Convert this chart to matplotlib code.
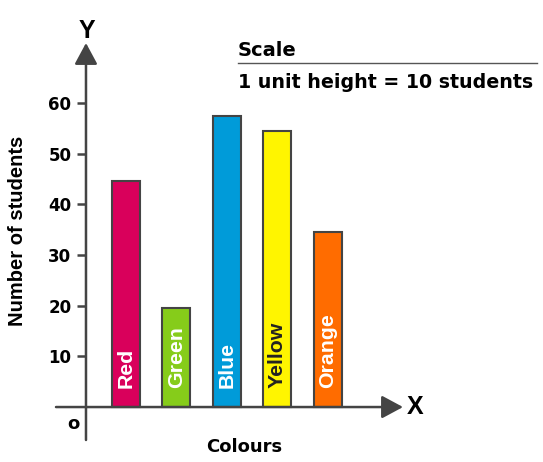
import matplotlib
matplotlib.use("Agg")
import matplotlib.pyplot as plt
from matplotlib.lines import Line2D

plt.rcParams['font.family'] = ['Liberation Sans', 'DejaVu Sans']

colours = ['Red', 'Green', 'Blue', 'Yellow', 'Orange']
students = [44.5, 19.5, 57.5, 54.5, 34.5]
bar_colors = ['#D9005B', '#86CC1A', '#009BD9', '#FFF500', '#FF6C00']
label_colors = ['white', 'white', 'white', '#222222', 'white']
yticks = [10, 20, 30, 40, 50, 60]

W, H = 543, 462
axis_col = '#444444'
narrow = 'Liberation Sans'
wide = 'DejaVu Sans'  # wider glyphs, closer to the reference lettering

fig = plt.figure(figsize=(W / 100, H / 100), dpi=100)
# axes box in pixels: x 56..403, y 43..440
ax = fig.add_axes([56 / W, (H - 440) / H, (403 - 56) / W, (440 - 43) / H])
x_lo, x_hi = -0.389, 6.496
y_lo, y_hi = -6.5, 71.8
ax.set_xlim(x_lo, x_hi)
ax.set_ylim(y_lo, y_hi)
yaxis_x = 0.206

xs = list(range(1, len(colours) + 1))
ax.bar(xs, students, width=0.556, color=bar_colors, edgecolor=axis_col,
       linewidth=1.5, zorder=3)

for x, name, c in zip(xs, colours, label_colors):
    ax.text(x, 3.7, name, rotation=90, ha='center', va='bottom',
            family=narrow, fontsize=15.3, fontweight='bold', color=c,
            zorder=4)

# axes with arrows
arrow = dict(arrowstyle='-|>,head_length=1.3,head_width=0.7', color=axis_col,
             lw=1.8, shrinkA=0, shrinkB=0)
ax.annotate('', xy=(x_hi, 0), xytext=(x_lo, 0), arrowprops=arrow,
            annotation_clip=False, zorder=5)
ax.annotate('', xy=(yaxis_x, y_hi), xytext=(yaxis_x, y_lo), arrowprops=arrow,
            annotation_clip=False, zorder=5)

for s in ax.spines.values():
    s.set_visible(False)
ax.spines['left'].set_position(('data', yaxis_x))
ax.set_xticks([])
ax.set_yticks(yticks)
ax.set_yticklabels([str(t) for t in yticks], family=wide, fontsize=12,
                   fontweight='bold')
ax.tick_params(axis='y', length=6.5, width=1.8, color=axis_col, pad=4)

fig.text(87 / W, 1 - 31 / H, 'Y', family=narrow, fontsize=18,
         fontweight='bold', ha='center', va='center')
fig.text(415 / W, 1 - 407 / H, 'X', family=narrow, fontsize=18,
         fontweight='bold', ha='center', va='center')
fig.text(73 / W, 1 - 424 / H, 'o', fontsize=13, fontweight='bold',
         family=wide, ha='center', va='center')
fig.text(244 / W, 1 - 447 / H, 'Colours', fontsize=13, fontweight='bold',
         family=wide, ha='center', va='center')
fig.text(17.5 / W, 1 - 231 / H, 'Number of students', family=narrow,
         fontsize=14.5, fontweight='bold', rotation=90, ha='center',
         va='center')

fig.text(238 / W, 1 - 50 / H, 'Scale', fontsize=14, fontweight='bold',
         family=wide, ha='left', va='center')
fig.add_artist(Line2D([238 / W, 537 / W], [1 - 62.7 / H] * 2,
                      color='#555555', lw=1))
fig.text(238 / W, 1 - 82 / H, '1 unit height = 10 students', fontsize=13.7,
         fontweight='bold', family=wide, ha='left', va='center')

fig.savefig('out.png', dpi=100)
